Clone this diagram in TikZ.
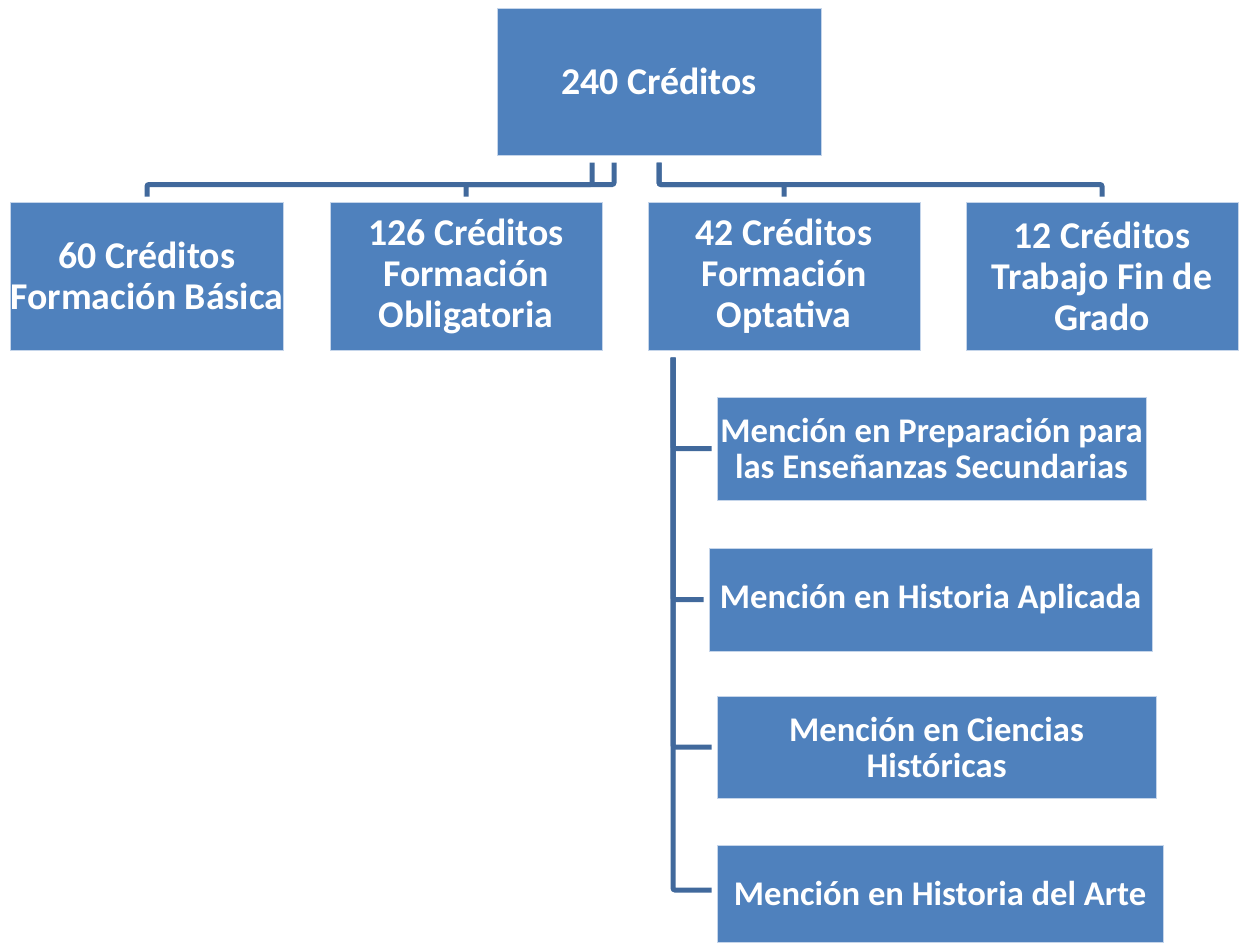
\documentclass[tikz,border=0pt]{standalone}
\usepackage{fontspec}
\setmainfont{Carlito}
\definecolor{boxfill}{HTML}{4F81BD}
\definecolor{boxedge}{HTML}{C5D5EA}
\definecolor{lineblue}{HTML}{41699C}
\begin{document}
\begin{tikzpicture}[x=1pt,y=-1pt,
  box/.style={draw=boxedge,line width=1pt,fill=boxfill,text=white,align=center,inner sep=0pt,
    font=\fontsize{37.8}{41}\selectfont\bfseries},
  mbox/.style={box,font=\fontsize{34.6}{36}\selectfont\bfseries},
  conn/.style={draw=lineblue,line width=5pt,rounded corners=2pt}]
\useasboundingbox[fill=white] (0,0) rectangle (1240,943);
\node[box,minimum width=324pt,minimum height=147pt] (top) at (659,81.5) {240 Créditos};
\node[box,minimum width=272pt,minimum height=148pt] (b1) at (147,276) {60 Créditos\\Formación Básica};
\node[box,minimum width=272pt,minimum height=148pt] (b2) at (466,276) {126 Créditos\\Formación\\Obligatoria};
\node[box,minimum width=272pt,minimum height=148pt] (b3) at (784,276) {42 Créditos\\Formación\\Optativa};
\node[box,minimum width=272pt,minimum height=148pt] (b4) at (1102,276) {12 Créditos\\Trabajo Fin de\\Grado};
\node[mbox,minimum width=429pt,minimum height=103pt] (m1) at (931.5,448.5) {Mención en Preparación para\\las Enseñanzas Secundarias};
\node[mbox,minimum width=443pt,minimum height=103pt] (m2) at (930.5,599.5) {Mención en Historia Aplicada};
\node[mbox,minimum width=439pt,minimum height=102pt] (m3) at (936.5,747) {Mención en Ciencias\\Históricas};
\node[mbox,minimum width=446pt,minimum height=97pt] (m4) at (940,893.5) {Mención en Historia del Arte};
% top-level connectors
\draw[conn] ([xshift=-67pt,yshift=-7pt]top.south) |- ([yshift=17pt]b1.north) -- ([yshift=5pt]b1.north);
\draw[conn] ([xshift=-45pt,yshift=-7pt]top.south) |- ([yshift=17pt]b2.north) -- ([yshift=5pt]b2.north);
\draw[conn] ([yshift=-7pt]top.south) |- ([yshift=17pt]b3.north) -- ([yshift=5pt]b3.north);
\draw[conn] ([yshift=-7pt]top.south) |- ([yshift=17pt]b4.north) -- ([yshift=5pt]b4.north);
% mention connectors
\draw[conn] ([xshift=-111pt,yshift=-7pt]b3.south) |- ([xshift=-5pt]m1.west);
\draw[conn] ([xshift=-111pt,yshift=-7pt]b3.south) |- ([xshift=-5pt]m2.west);
\draw[conn] ([xshift=-111pt,yshift=-7pt]b3.south) |- ([xshift=-5pt]m3.west);
\draw[conn] ([xshift=-111pt,yshift=-7pt]b3.south) |- ([xshift=-5pt,yshift=3.5pt]m4.west);
\end{tikzpicture}
\end{document}
